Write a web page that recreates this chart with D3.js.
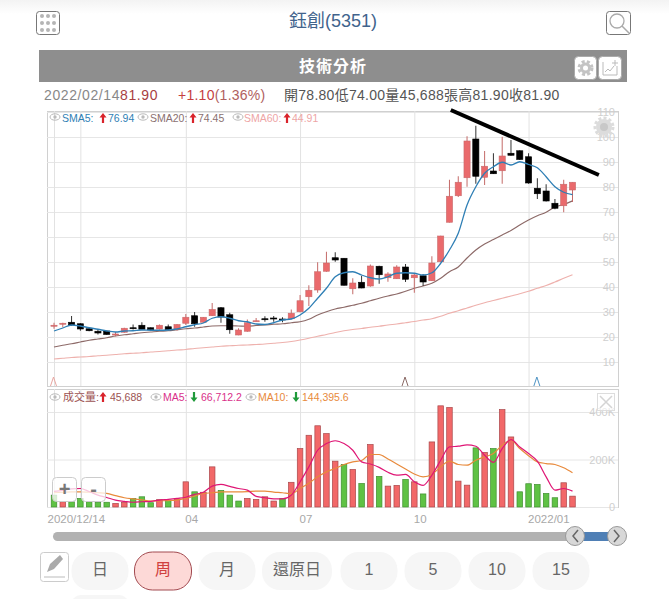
<!DOCTYPE html>
<html>
<head>
<meta charset="utf-8">
<script src="https://cdnjs.cloudflare.com/ajax/libs/d3/7.8.5/d3.min.js"></script>
<style>
  html, body { margin: 0; padding: 0; background: #fff; overflow: hidden; }
  svg { display: block; font-family: "Liberation Sans", "Noto Sans CJK TC", sans-serif; }
</style>
</head>
<body>
<svg id="chart" width="669" height="599"></svg>
<script>
// weekly candles
const opens  = [24.7,25.5,25.9,25.3,23.3,22.3,22.4,21.2,21.9,23.7,24.7,23.7,23.2,24.1,23.2,25.5,28.5,25.9,28.5,31.7,28.9,20.8,22.3,26.4,27.3,27.6,27.2,27.3,30.1,36.1,38.8,46.3,51.7,51.5,39.3,41.9,40.4,48.3,43.7,43.3,48.0,43.7,44.5,42.5,50.1,65.9,76.5,83.7,99.2,83.9,86.4,86.5,93.5,94.5,92.1,79.5,78.4,73.5,72.5,78.8]
const highs  = [25.7,25.7,28.4,25.5,23.9,23.1,22.5,22.0,23.7,25.0,25.9,23.8,25.0,25.0,25.2,29.2,30.0,28.0,33.6,32.0,29.7,23.5,27.0,27.6,28.3,28.4,27.9,31.0,36.8,40.7,49.9,54.1,53.9,51.6,43.5,44.5,49.0,48.5,45.9,48.7,49.2,45.2,45.2,52.3,60.5,82.9,84.3,100.3,104.5,94.4,93.5,100.1,98.8,94.7,93.5,83.5,81.1,75.2,82.9,81.9]
const lows   = [23.3,23.9,24.5,22.5,22.3,21.0,20.9,20.3,21.7,23.0,23.0,22.4,23.0,22.7,22.5,24.8,24.1,25.7,28.4,25.7,21.3,20.7,22.1,26.1,26.1,26.1,25.9,27.1,29.9,32.4,37.7,46.1,50.1,40.6,37.1,39.5,40.1,41.3,42.1,43.2,42.0,37.7,40.4,42.4,50.0,65.8,76.0,80.1,81.3,80.8,85.2,81.3,92.5,90.8,81.3,75.2,74.2,71.1,69.9,74.0]
const closes = [24.7,25.5,24.8,23.2,22.5,21.6,21.0,21.2,23.5,23.3,23.1,22.9,24.7,22.9,25.0,27.9,25.3,27.9,31.0,28.0,22.9,22.8,25.7,26.5,27.2,27.5,27.1,29.5,34.5,38.7,46.1,49.6,50.8,40.7,41.6,39.6,48.4,44.9,45.2,48.0,43.1,44.8,42.0,49.6,60.4,76.3,81.9,98.4,84.3,88.3,85.3,92.4,92.7,91.0,81.6,77.3,74.4,71.5,81.1,81.9]

const sma5  = [22.4,23.6,24.8,24.4,23.7,23.1,22.4,22.0,22.4,22.5,22.8,22.7,22.7,22.8,23.2,24.1,24.9,25.6,27.5,28.1,27.5,26.5,26.1,25.2,25.0,25.7,26.8,27.2,28.8,31.5,35.5,39.5,44.1,45.7,46.1,44.8,43.7,43.2,44.1,45.5,45.7,45.5,44.8,45.7,49.5,54.8,61.5,72.8,80.1,85.5,88.1,89.9,88.8,90.1,89.0,87.7,84.1,80.1,77.9,76.94]
const sma20 = [16.0,16.7,17.3,18.0,18.7,19.2,19.7,20.4,20.9,21.3,21.7,22.0,22.3,22.5,22.9,23.3,23.6,24.0,24.4,24.5,24.5,24.4,24.3,24.6,24.8,25.1,25.3,25.7,26.1,27.1,28.8,30.1,31.2,31.9,32.7,33.5,34.5,35.5,36.4,37.2,38.3,39.5,40.4,41.5,43.5,46.1,48.0,51.6,54.8,57.2,59.0,60.8,62.6,64.8,66.8,68.5,69.9,72.0,73.0,74.45]
const sma60 = [11.2,11.5,11.8,12.0,12.2,12.5,12.7,13.0,13.3,13.5,13.7,14.0,14.2,14.5,14.8,15.0,15.4,15.7,16.0,16.3,16.5,16.7,16.8,17.0,17.2,17.5,17.8,18.2,18.8,19.5,20.3,21.0,21.8,22.5,23.0,23.4,23.9,24.3,24.8,25.2,25.7,26.2,26.8,27.3,28.3,29.5,30.5,31.6,32.7,33.7,34.6,35.5,36.4,37.3,38.3,39.5,40.6,42.0,43.5,44.91]

// volume in K
const volumes = [50,22,22,36,22,20,20,15,20,36,43,18,31,29,34,106,64,62,169,70,50,25,36,32,43,25,36,104,246,302,342,309,193,179,158,99,263,129,88,91,116,106,55,274,426,419,109,92,249,230,246,410,295,64,98,95,57,39,102,45.7]
const greenVolumes = [0,2,3,4,5,6,9,10,11,13,16,19,20,21,26,33,35,37,40,42,48,50,53,54,55,56,57]
const ma5  = [66,70,76,78,65,50,40,29,24,20,22,24,29,32,36,41,53,62,88,95,87,78,71,45,39,34,34,50,106,169,239,267,279,267,239,190,181,167,146,134,137,106,91,134,197,253,256,262,256,218,188,246,284,253,225,193,127,71,78,66.7]
const ma10 = [60,62,64,64,62,60,57,48,39,34,30,25,26,27,29,36,46,57,60,64,64,64,65,67,67,63,60,56,78,100,127,148,162,179,190,196,221,221,202,181,160,139,127,137,169,193,179,176,197,211,225,260,281,246,216,190,183,179,165,144.4]

const priceTicks = [10,20,30,40,50,60,70,80,90,100,110]
const volumeTicks = [0,200,400]
const timeTicks = [0,3,15,28,41,54]
const timeLabels = {0:'2020/12/14', 15:'04', 28:'07', 41:'10', 54:'2022/01'}
const markers = [[0,'#e8a5a0'],[40,'#8a6a66'],[55,'#4d93c4']]
const trendLine = [[45.15,110.8],[62,84.8]]
const buttons = ['日','周','月','還原日','1','5','10','15']
const buttonX = [100,163,227,297,369,433,497,561]

const svg = d3.select('#chart')
const L = 47, R = 618

const x = d3.scaleLinear().domain([0,59]).range([54,572.5])
const y = d3.scaleLinear().domain([0,110]).range([387,112])
const v = d3.scaleLinear().domain([0,400]).range([507,412])
const barW = (x(1) - x(0)) * 0.7

// top header
const topFade = svg.append('defs').append('linearGradient').attr('id','fade').attr('x2',0).attr('y2',1)
topFade.append('stop').attr('offset',0).attr('stop-color','#f3f3f3')
topFade.append('stop').attr('offset',1).attr('stop-color','#fff')
svg.append('rect').attr('width',669).attr('height',14).attr('fill','url(#fade)')

svg.append('text').attr('x',333).attr('y',27).attr('text-anchor','middle')
   .attr('font-size',18).attr('fill','#41638c').text('鈺創(5351)')

svg.append('rect').attr('x',36.5).attr('y',11.5).attr('width',23).attr('height',23).attr('rx',3)
   .attr('fill','#fff').attr('stroke','#777')
d3.range(9).forEach(i => {
  svg.append('circle').attr('cx',42 + (i % 3) * 6).attr('cy',16 + Math.floor(i / 3) * 7)
     .attr('r',2).attr('fill','#b5b5b5')
})

svg.append('rect').attr('x',606.5).attr('y',11.5).attr('width',24).attr('height',23).attr('rx',3)
   .attr('fill','#fff').attr('stroke','#777')
svg.append('circle').attr('cx',617).attr('cy',21).attr('r',7).attr('fill','none').attr('stroke','#aaa').attr('stroke-width',1.3)
svg.append('line').attr('x1',622).attr('y1',26).attr('x2',629).attr('y2',33).attr('stroke','#aaa').attr('stroke-width',1.5)

// title bar
svg.append('rect').attr('x',39).attr('y',50).attr('width',588).attr('height',32).attr('fill','#8e8e8e')
svg.append('text').attr('x',333).attr('y',72).attr('text-anchor','middle').attr('font-size',16)
   .attr('font-weight','bold').attr('letter-spacing',1).attr('fill','#fff').text('技術分析')

function gear(cx, cy, r, c) {
  svg.append('circle').attr('cx',cx).attr('cy',cy).attr('r',r).attr('fill','none').attr('stroke',c)
     .attr('stroke-width',3).attr('stroke-dasharray','3 2.2')
  svg.append('circle').attr('cx',cx).attr('cy',cy).attr('r',r - 1).attr('fill',c)
}
svg.append('rect').attr('x',574.5).attr('y',56.5).attr('width',22).attr('height',23).attr('rx',4).attr('fill','#fff').attr('stroke','#aaa')
gear(585.5,68,6.5,'#c4c4c4')
svg.append('circle').attr('cx',585.5).attr('cy',68).attr('r',2.5).attr('fill','#fff')
svg.append('rect').attr('x',598.5).attr('y',56.5).attr('width',23).attr('height',23).attr('rx',4).attr('fill','#fff').attr('stroke','#aaa')
svg.append('path').attr('d','M603 62V75H617V66M605 72l3-3 2 2 4-5M615 60v6M612 63h6').attr('fill','none').attr('stroke','#bbb')

// quote line
const quote = svg.append('text').attr('y',100).attr('font-size',14)
quote.append('tspan').attr('x',44).attr('fill','#888').attr('letter-spacing',0.6).text('2022/02/14')
quote.append('tspan').attr('fill','#a8403f').attr('letter-spacing',0.6).text('81.90')
quote.append('tspan').attr('x',178).attr('fill','#c5403f').attr('letter-spacing',0.25).text('+1.10')
quote.append('tspan').attr('fill','#b06060').attr('letter-spacing',0.25).text('(1.36%)')
quote.append('tspan').attr('x',284).attr('fill','#555').attr('letter-spacing',0.27).text('開78.80低74.00量45,688張高81.90收81.90')

// panes
function pane(top, bottom) {
  svg.append('rect').attr('x',L + 0.5).attr('y',top + 0.5).attr('width',R - L).attr('height',bottom - top)
     .attr('fill','#fff').attr('stroke','#d0d0d0')
}
pane(111,386)
pane(389,507)

function styleAxis(g) {
  g.select('.domain').remove()
  g.selectAll('.tick line').attr('stroke','#e6e6e6')
  g.selectAll('.tick text').attr('fill','#cfcfcf').attr('font-size',11).attr('x',-3).attr('text-anchor','end')
}

svg.append('g').attr('transform',`translate(${R},0)`)
   .call(d3.axisRight(y).tickValues(priceTicks).tickSize(-(R - L)))
   .call(styleAxis)

svg.append('g').attr('transform',`translate(${R},0)`)
   .call(d3.axisRight(v).tickValues(volumeTicks).tickSize(-(R - L)).tickFormat(d => d ? d + 'K' : '0'))
   .call(styleAxis)

// vertical grid lines in both panes
svg.append('g').attr('transform','translate(0,386)')
   .call(d3.axisBottom(x).tickValues(timeTicks).tickSize(-275).tickFormat(''))
   .call(g => { g.select('.domain').remove(); g.selectAll('line').attr('stroke','#e2e2e2') })

const timeAxis = svg.append('g').attr('transform','translate(0,507)')
   .call(d3.axisBottom(x).tickValues(timeTicks).tickSize(-118).tickFormat(d => timeLabels[d] || ''))
timeAxis.select('.domain').remove()
timeAxis.selectAll('line').attr('stroke','#e2e2e2')
timeAxis.selectAll('text').attr('fill','#a8a8a8').attr('font-size',11.5).attr('text-anchor','start')
   .attr('y',8).attr('dx',d => d === 0 ? -7 : -1)

// price pane lines
const lineOf = (sc) => d3.line().curve(d3.curveMonotoneX).x((d,i) => x(i)).y(d => sc(d))

svg.append('path').datum(sma60).attr('d',lineOf(y)).attr('fill','none').attr('stroke','#eeb1ad').attr('stroke-width',1.2)
svg.append('path').datum(sma20).attr('d',lineOf(y)).attr('fill','none').attr('stroke','#8d6a68').attr('stroke-width',1.2)

// candles
const idx = d3.range(opens.length)
const candles = svg.append('g').selectAll('g').data(idx).enter().append('g')
candles.append('line')
  .attr('x1',i => x(i)).attr('x2',i => x(i))
  .attr('y1',i => y(highs[i])).attr('y2',i => y(lows[i]))
  .attr('stroke',i => closes[i] < opens[i] ? '#333' : '#c46a68')
candles.append('rect')
  .attr('x',i => x(i) - barW / 2).attr('width',barW)
  .attr('y',i => y(Math.max(opens[i],closes[i])))
  .attr('height',i => Math.max(1,Math.abs(y(opens[i]) - y(closes[i]))))
  .attr('fill',i => closes[i] < opens[i] ? '#000' : '#ea6a6c')
  .attr('stroke',i => closes[i] < opens[i] ? '#000' : '#c9696a')
  .attr('stroke-width',0.6)

svg.append('path').datum(sma5).attr('d',lineOf(y)).attr('fill','none').attr('stroke','#2f7fb5').attr('stroke-width',1.3)

// little markers on the bottom of the price pane
markers.forEach(([i,c]) => {
  const px = x(i) - 0.5
  svg.append('path').attr('d',`M${px - 3} 386L${px} 377L${px + 3} 386`).attr('fill','none').attr('stroke',c)
})

// zoom reset icon
gear(604,127,9,'#dcdcdc')
svg.append('circle').attr('cx',604).attr('cy',127).attr('r',4).attr('fill','#c8c8c8')

// hand drawn trend line
svg.append('path').datum(trendLine)
   .attr('d',d3.line().x(d => x(d[0])).y(d => y(d[1])))
   .attr('stroke','#000').attr('stroke-width',4).attr('fill','none')

// volume
svg.append('g').selectAll('rect').data(volumes).enter().append('rect')
  .attr('x',(d,i) => x(i) - barW / 2 + 0.3).attr('width',barW - 0.6)
  .attr('y',d => v(d)).attr('height',d => v(0) - v(d))
  .attr('fill',(d,i) => greenVolumes.includes(i) ? '#5fc244' : '#f26868')
  .attr('stroke',(d,i) => greenVolumes.includes(i) ? '#3f8f30' : '#a8474a')
  .attr('stroke-width',0.7)

svg.append('path').datum(ma10).attr('d',lineOf(v)).attr('fill','none').attr('stroke','#e88a3c').attr('stroke-width',1.2)
svg.append('path').datum(ma5).attr('d',lineOf(v)).attr('fill','none').attr('stroke','#df1675').attr('stroke-width',1.2)

// legends
function eye(cx, cy) {
  svg.append('ellipse').attr('cx',cx).attr('cy',cy).attr('rx',5).attr('ry',3.2).attr('fill','none').attr('stroke','#bbb')
  svg.append('circle').attr('cx',cx).attr('cy',cy).attr('r',1.7).attr('fill','#bbb')
}
function legendText(px, py, s, c, fs) {
  svg.append('text').attr('x',px).attr('y',py).attr('font-size',fs || 10.5).attr('fill',c).text(s)
}
function arrow(px, py, up) {
  const c = up ? '#d9232b' : '#1f9a3a'
  const d = up
    ? `M${px} ${py - 9}l3.5 4.5h-2.4v5.5h-2.2v-5.5h-2.4z`
    : `M${px} ${py + 1}l3.5 -4.5h-2.4v-5.5h-2.2v5.5h-2.4z`
  svg.append('path').attr('d',d).attr('fill',c)
}

eye(55,117); legendText(62,122,'SMA5:','#2f7fb5'); arrow(103,122,true); legendText(108,122,'76.94','#2f7fb5')
eye(143,117); legendText(150,122,'SMA20:','#8a7070'); arrow(193,122,true); legendText(198,122,'74.45','#8a7070')
eye(238,117); legendText(244,122,'SMA60:','#eea5a5'); arrow(287,122,true); legendText(292,122,'44.91','#eea5a5')

eye(55,397); legendText(63,401,'成交量:','#9c5252',11); arrow(103,401,true); legendText(110,401,'45,688','#9c5252')
eye(156,397); legendText(163,401,'MA5:','#d9308a'); arrow(194,401,false); legendText(201,401,'66,712.2','#d9308a')
eye(251,397); legendText(258,401,'MA10:','#e88a3c'); arrow(296,401,false); legendText(302,401,'144,395.6','#e88a3c')

// close box on the volume pane
svg.append('rect').attr('x',597.5).attr('y',393.5).attr('width',17).attr('height',17).attr('fill','#fff').attr('fill-opacity',0.6).attr('stroke','#ddd')
svg.append('path').attr('d','M600 396L612 408M612 396L600 408').attr('stroke','#d4d4d4').attr('stroke-width',1.5)

// + / - buttons
;[['+',52.5],['-',81.5]].forEach(([s,px]) => {
  svg.append('rect').attr('x',px).attr('y',477.5).attr('width',24).attr('height',24).attr('rx',4)
     .attr('fill','#fff').attr('fill-opacity',0.75).attr('stroke','#ccc')
  svg.append('text').attr('x',px + 12).attr('y',496).attr('text-anchor','middle')
     .attr('font-size',20).attr('font-weight','bold').attr('fill','#777').text(s)
})

// range slider
svg.append('rect').attr('x',53).attr('y',532).attr('width',530).attr('height',9).attr('rx',4.5).attr('fill','#b2b2b2')
svg.append('rect').attr('x',583).attr('y',532).attr('width',26).attr('height',9).attr('fill','#4f7fb5')
;[[575,'M578 530l-5 6l5 6'],[617,'M614 530l5 6l-5 6']].forEach(([cx,d]) => {
  svg.append('circle').attr('cx',cx).attr('cy',536).attr('r',9.5).attr('fill','#d8d8d8').attr('stroke','#999')
  svg.append('path').attr('d',d).attr('fill','none').attr('stroke','#666').attr('stroke-width',1.5)
})

// period buttons
svg.append('rect').attr('x',40.5).attr('y',552.5).attr('width',28).attr('height',29).attr('rx',3).attr('fill','#fff').attr('stroke','#ccc')
svg.append('path').attr('d','M47 572l3-8l10-9l3 4l-9 10z').attr('fill','#aaa')
svg.append('path').attr('d','M44 577H65').attr('stroke','#bbb')

svg.append('rect').attr('x',71).attr('y',595).attr('width',58).attr('height',20).attr('rx',10).attr('fill','#f6f6f6')
buttons.forEach((s,i) => {
  const w = s === '還原日' ? 70 : 57
  const active = s === '周'
  svg.append('rect').attr('x',buttonX[i] - w / 2).attr('y',552).attr('width',w).attr('height',38).attr('rx',18)
     .attr('fill',active ? '#fdd9d7' : '#f6f6f6').attr('stroke',active ? '#a24a50' : 'none')
  svg.append('text').attr('x',buttonX[i]).attr('y',575).attr('text-anchor','middle').attr('font-size',16)
     .attr('fill',active ? '#d0413f' : '#666').text(s)
})
</script>
</body>
</html>
